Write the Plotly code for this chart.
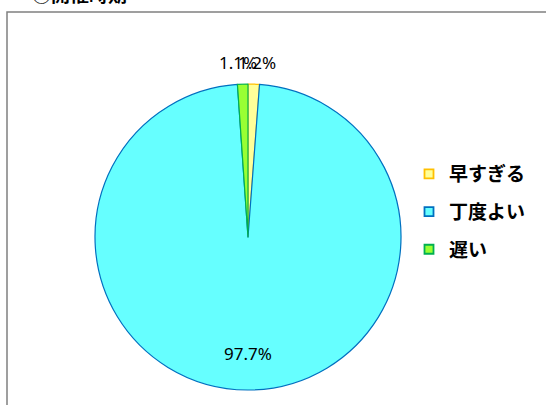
import plotly.graph_objects as go

labels = ["早すぎる", "丁度よい", "遅い"]
values = [1.2, 97.7, 1.1]
pct_text = ["1.2%", "97.7%", "1.1%"]
fill_colors = ["#FFFF99", "#66FFFF", "#99FF33"]
line_colors = ["#FFC000", "#0070C0", "#00B050"]
title_text = "③開催時期"

W, H = 546, 405
cx, cy, r = 248, 237, 153

fig = go.Figure()
fig.add_trace(go.Pie(
    labels=labels,
    values=values,
    textinfo="none",
    sort=False,
    direction="clockwise",
    rotation=0,
    marker=dict(colors=fill_colors, line=dict(color=line_colors, width=1.2)),
    domain=dict(x=[(cx - r) / W, (cx + r) / W], y=[(H - cy - r) / H, (H - cy + r) / H]),
    showlegend=False,
    hoverinfo="label+percent",
))

# legend entries (square markers)
for lab, fc, lc in zip(labels, fill_colors, line_colors):
    fig.add_trace(go.Scatter(
        x=[None], y=[None], mode="markers", name=lab, legendgroup=lab,
        marker=dict(symbol="square", size=9, color=fc, line=dict(color=lc, width=1.8)),
        showlegend=True,
    ))

pfont = dict(family="Noto Sans, sans-serif", size=17, color="#000000")
label_pos = [(257, 62), (248, 353), (238, 62)]
annotations = []
for t, (lx, ly) in zip(pct_text, label_pos):
    annotations.append(dict(text=t, xref="paper", yref="paper", x=lx / W, y=(H - ly) / H,
                            xanchor="center", yanchor="middle", showarrow=False, font=pfont))
annotations.append(dict(text="<b>" + title_text + "</b>", xref="paper", yref="paper",
                        x=30 / W, y=(H - 9) / H, xanchor="left", yanchor="bottom",
                        showarrow=False,
                        font=dict(family="Noto Sans CJK JP, sans-serif", size=19, color="#000000")))

fig.update_layout(
    width=W, height=H,
    margin=dict(l=0, r=0, t=0, b=0),
    paper_bgcolor="white",
    plot_bgcolor="white",
    xaxis=dict(visible=False),
    yaxis=dict(visible=False),
    legend=dict(
        x=409 / W, y=(H - 212) / H, xanchor="left", yanchor="middle",
        font=dict(family="Noto Sans CJK JP, sans-serif", size=19, color="#000000", weight="bold"),
        itemwidth=30, tracegroupgap=10, bgcolor="rgba(0,0,0,0)",
        traceorder="grouped",
    ),
    shapes=[dict(type="rect", xref="paper", yref="paper",
                 x0=7 / W, x1=1.02, y0=-0.02, y1=(H - 12) / H,
                 line=dict(color="#808080", width=1.5), fillcolor="rgba(0,0,0,0)", layer="above")],
    annotations=annotations,
)

fig.write_html("out.html", config={"displayModeBar": False},
               post_script="document.body.style.margin='0';")
